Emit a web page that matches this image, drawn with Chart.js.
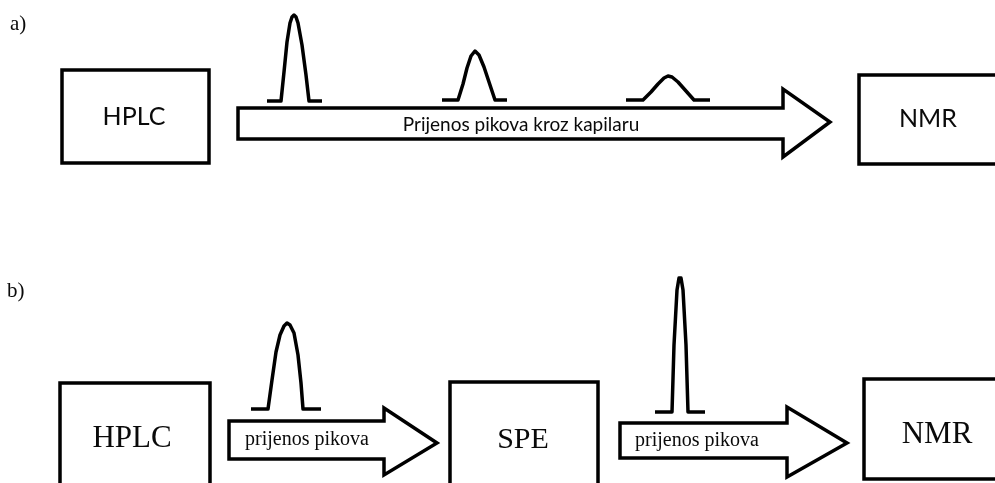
<!DOCTYPE html>
<html><head><meta charset="utf-8">
<script src="https://cdn.jsdelivr.net/npm/chart.js@4.4.1/dist/chart.umd.min.js"></script>
<style>html,body{margin:0;padding:0;background:#fff;overflow:hidden}</style>
</head><body>
<canvas id="c" width="995" height="483"></canvas>
<script>
// ---- shapes (x, y in picture units; y grows downward) ----
const boxHplcA = [[62,70],[209,70],[209,163],[62,163],[62,70]];
const boxNmrA  = [[1010,75],[859,75],[859,164],[1010,164]];
const boxHplcB = [[60,500],[60,383],[210,383],[210,500]];
const boxSpeB  = [[450,500],[450,382],[598,382],[598,500]];
const boxNmrB  = [[1010,379],[864,379],[864,479],[1010,479]];

const arrowA  = [[238,108],[783,108],[783,89],[830,122],[783,157],[783,139],[238,139],[238,108]];
const arrowB1 = [[229,421],[384,421],[384,408],[437,443],[384,475],[384,459],[229,459],[229,421]];
const arrowB2 = [[620,423],[787,423],[787,407],[847,443],[787,477],[787,458],[620,458],[620,423]];

const peakA1 = [[267,101],[281,101],[284,72],[287,42],[290,23],[292,17],[294,15],[296,17],[298,23],[302,45],[306,75],[309,101],[322,101]];
const peakA2 = [[442,100],[458,100],[463,84],[467,68],[471,56],[475,51],[479,55],[484,67],[489,82],[495,100],[507,100]];
const peakA3 = [[626,100],[643,100],[651,92],[658,84],[664,78],[668,76],[672,77],[678,82],[686,91],[694,100],[710,100]];
const peakB1 = [[251,409],[268,409],[272,380],[276,352],[280,335],[284,326],[287,323],[290,325],[294,333],[298,355],[301,383],[303,409],[321,409]];
const peakB2 = [[655,412],[672,412],[674,345],[677,290],[679,278],[681,278],[683,290],[686,345],[688,412],[705,412]];

// ---- texts ----
const labelTexts = ["a)", "HPLC", "Prijenos pikova kroz kapilaru", "NMR", "b)", "HPLC", "prijenos pikova", "SPE", "prijenos pikova", "NMR"];
const labelX     = [10, 134, 521, 928, 7, 132, 245, 523, 635, 937];
const labelY     = [24, 117, 125, 119, 291, 439, 445, 440, 446, 435];
const labelAlign = ["left","center","center","center","left","center","left","center","left","center"];
const labelBase  = ["middle","middle","middle","middle","middle","middle","alphabetic","middle","alphabetic","middle"];
const labelFont  = ["21px 'Liberation Serif'", "25px Lato", "19px Lato", "25px Lato", "21px 'Liberation Serif'",
                    "31px 'Liberation Serif'", "20px 'Liberation Serif'", "30px 'Liberation Serif'", "20px 'Liberation Serif'", "31px 'Liberation Serif'"];

const shapes = [
  {pts: boxHplcA, join: 'miter', closed: true}, {pts: boxNmrA, join: 'miter'}, {pts: boxHplcB, join: 'miter'},
  {pts: boxSpeB, join: 'miter'}, {pts: boxNmrB, join: 'miter'},
  {pts: arrowA, join: 'miter', closed: true}, {pts: arrowB1, join: 'miter', closed: true}, {pts: arrowB2, join: 'miter', closed: true},
  {pts: peakA1, join: 'round'}, {pts: peakA2, join: 'round'}, {pts: peakA3, join: 'round'},
  {pts: peakB1, join: 'round'}, {pts: peakB2, join: 'round'}
];

const textPlugin = {
  id: 'texts',
  afterDatasetsDraw(chart) {
    const ctx = chart.ctx, xs = chart.scales.x, ys = chart.scales.y;
    ctx.save();
    ctx.fillStyle = '#0a0a0a';
    labelTexts.forEach((t, i) => {
      ctx.font = labelFont[i];
      ctx.textAlign = labelAlign[i];
      ctx.textBaseline = labelBase[i];
      ctx.fillText(t, xs.getPixelForValue(labelX[i]), ys.getPixelForValue(labelY[i]));
    });
    ctx.restore();
  }
};

new Chart(document.getElementById('c'), {
  type: 'scatter',
  data: {
    datasets: shapes.map(s => {
      // closed outlines repeat their first edge so the starting corner is joined too
      const pts = s.closed ? s.pts.concat([s.pts[1]]) : s.pts;
      return {
        data: pts.map(p => ({x: p[0], y: p[1]})),
        showLine: true,
        borderColor: '#000',
        borderWidth: 3.5,
        borderJoinStyle: s.join,
        borderCapStyle: 'butt',
        pointRadius: 0,
        fill: false,
        tension: 0,
        clip: 0
      };
    })
  },
  options: {
    responsive: false,
    devicePixelRatio: 1,
    animation: false,
    events: [],
    layout: {padding: 0},
    plugins: {legend: {display: false}, tooltip: {enabled: false}},
    scales: {
      x: {type: 'linear', min: 0, max: 995, display: false},
      y: {type: 'linear', min: 0, max: 483, reverse: true, display: false}
    }
  },
  plugins: [textPlugin]
});
</script>
</body></html>
